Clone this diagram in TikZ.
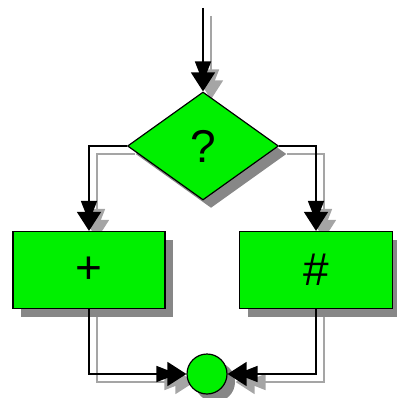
\documentclass[tikz,border=0pt]{standalone}
\usepackage{fontspec}
\setmainfont{Liberation Sans}
\usetikzlibrary{shapes.geometric,shadows,arrows.meta,backgrounds}
\definecolor{boxgreen}{RGB}{0,240,0}
\definecolor{shadowgray}{RGB}{135,135,135}
\definecolor{lineshadow}{RGB}{165,165,165}
\tikzset{
	flowshape/.style={draw=black, line width=1.2pt, fill=boxgreen, inner sep=0pt,
		font=\fontsize{46}{46}\selectfont,
		drop shadow={shadow xshift=8pt, shadow yshift=-8pt, fill=shadowgray, opacity=1}},
	flowline/.style={line width=1.6pt,
		-{Triangle[width=16pt,length=21pt,sep=-10pt]Triangle[width=24pt,length=19pt]}}
}

\begin{document}
\begin{tikzpicture}[x=1pt,y=-1pt]
				\useasboundingbox (0,0) rectangle (396,398);
				
				\node[flowshape, diamond, minimum width=151pt, minimum height=108pt] (ask) at (203,146) {?};
				\node[flowshape, rectangle, minimum width=152pt, minimum height=77pt] (plus) at (89,270) {+};
				\node[flowshape, rectangle, minimum width=153pt, minimum height=77pt] (hash) at (316,270) {\#};
				\node[flowshape, circle, minimum size=40pt] (join) at (207,374) {};
				\coordinate (start) at (203,8);
				
				% shadows of the connectors
				\begin{pgfonlayer}{background}
					\begin{scope}[transform canvas={shift={(8pt,-8pt)}}]
						\draw[flowline, lineshadow] (start) -- (ask.north);
						\draw[flowline, lineshadow] (ask.west) -| (plus.north);
						\draw[flowline, lineshadow] (ask.east) -| (hash.north);
						\draw[flowline, lineshadow] (plus.south) |- (join.west);
						\draw[flowline, lineshadow] (hash.south) |- (join.east);
					\end{scope}
				\end{pgfonlayer}
				
				\draw[flowline] (start) -- (ask.north);
				\draw[flowline] (ask.west) -| (plus.north);
				\draw[flowline] (ask.east) -| (hash.north);
				\draw[flowline] (plus.south) |- (join.west);
				\draw[flowline] (hash.south) |- (join.east);
\end{tikzpicture}
\end{document}
